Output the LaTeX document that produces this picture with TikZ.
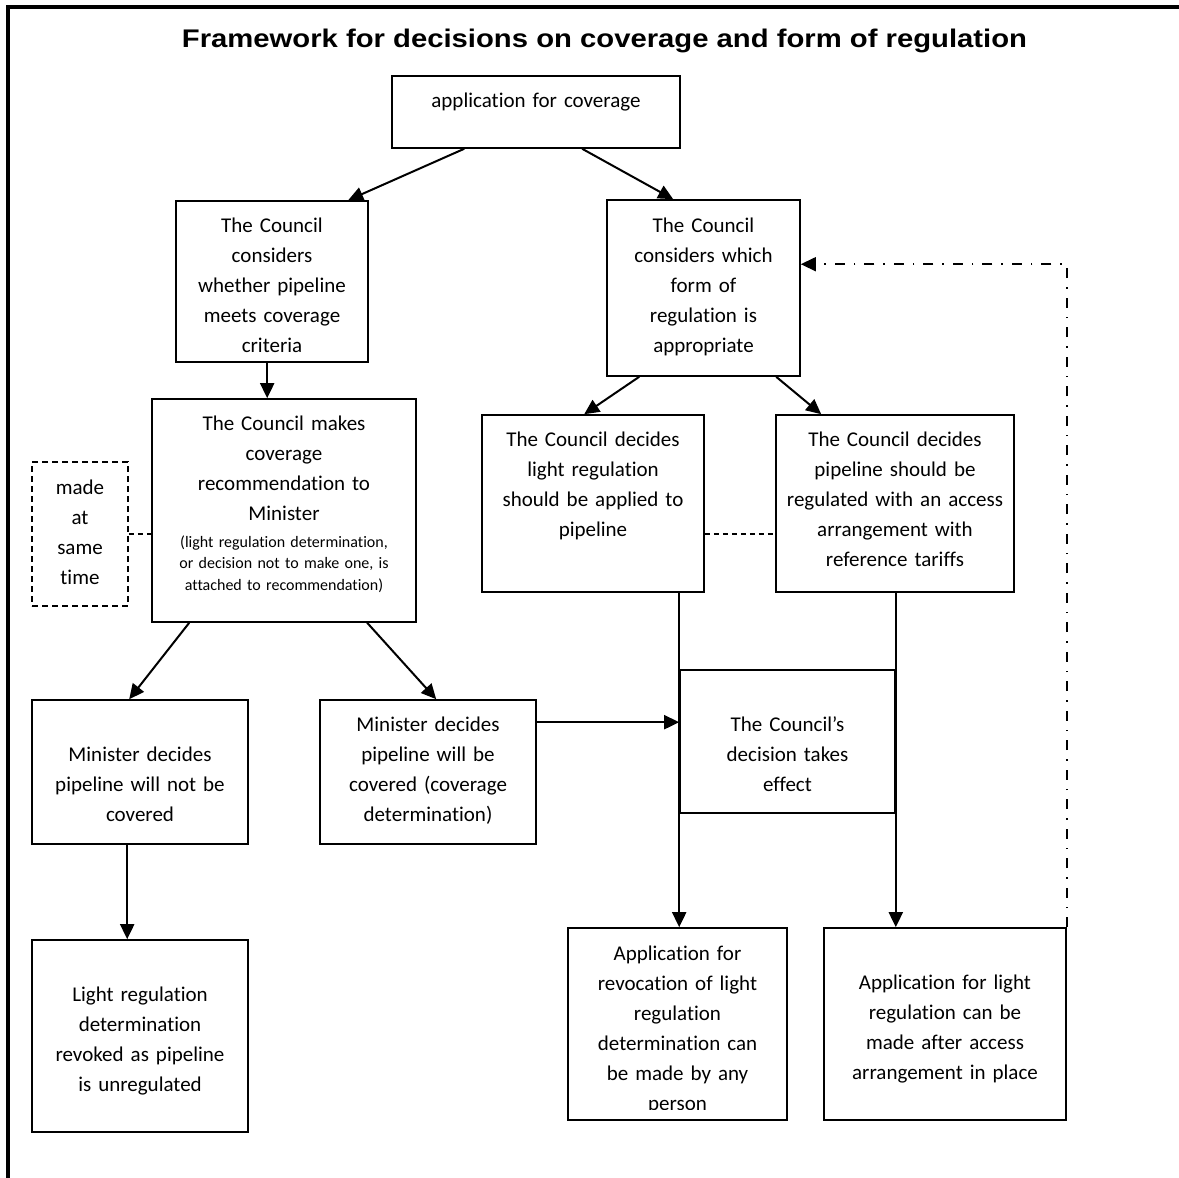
\documentclass[tikz,border=0pt]{standalone}
\usepackage{fontspec}
\usepackage{graphicx}
\setmainfont{Carlito}[Ligatures=NoCommon]
\newfontfamily\titlefont{Liberation Sans}
\usetikzlibrary{arrows.meta}
\tikzset{
  boxshape/.style={draw, line width=1.6pt, inner sep=0pt},
  dashbox/.style={draw, line width=1.6pt, inner sep=0pt, dash pattern=on 6pt off 4pt},
  boxtext/.style={inner sep=0pt, anchor=north, align=center, font=\fontsize{21}{30}\selectfont},
  notetext/.style={inner sep=0pt, anchor=north, align=center, font=\fontsize{16}{21.5}\selectfont},
  arrowline/.style={line width=2pt, -{Triangle[length=15pt,width=14pt]}},
  dashline/.style={line width=1.5pt, dash pattern=on 5pt off 4pt},
  dashdotline/.style={line width=1.5pt, dash pattern=on 10pt off 9pt on 1.5pt off 9pt, -{Triangle[length=15pt,width=14pt]}},
  frameline/.style={line width=3.8pt}
}
% \mkbox[opts]{name}{x1}{y1}{x2}{y2}
\newcommand\mkbox[6][boxshape]{%
  \node[#1, minimum width={(#5-#3)*1pt}, minimum height={(#6-#4)*1pt}] (#2) at ({(#3+#5)/2},{(#4+#6)/2}) {};}
% \mktext[style]{name}{box}{offset}{width}{text}
\newcommand\mktext[6][boxtext]{%
  \node[#1, text width=#5pt] (#2) at ([yshift=-#4pt]#3.north) {\strut #6};}
\begin{document}
\begin{tikzpicture}[x=1pt,y=-1pt]
\useasboundingbox (0,0) rectangle (1179,1178);
% outer frame
\draw[frameline] (8,1178) -- (8,7) -- (1179,7);
% title
\node[inner sep=0pt, anchor=base] (title) at (604.5,47)
  {\resizebox{845pt}{\height}{\titlefont\bfseries\fontsize{25.5}{30}\selectfont Framework for decisions on coverage and form of regulation}};
% boxes
\mkbox{A}{392}{76}{680}{148}
\mkbox{B}{176}{201}{368}{362}
\mkbox{C}{607}{200}{800}{376}
\mkbox{D}{152}{399}{416}{622}
\mkbox{E}{482}{415}{704}{592}
\mkbox{F}{776}{415}{1014}{592}
\mkbox[dashbox]{G}{32}{462}{128}{606}
\mkbox{H}{32}{700}{248}{844}
\mkbox{I}{320}{700}{536}{844}
\mkbox{J}{680}{670}{895}{813}
\mkbox{K}{568}{928}{787}{1120}
\mkbox{L}{824}{928}{1066}{1120}
\mkbox{M}{32}{940}{248}{1132}
% texts
\mktext{tA}{A}{11}{284}{application for coverage}
\mktext{tB}{B}{11}{188}{The Council\\considers\\whether pipeline\\meets coverage\\criteria}
\mktext{tC}{C}{12}{189}{The Council\\considers which\\form of\\regulation is\\appropriate}
\mktext{tD}{D}{11}{260}{The Council makes\\coverage\\recommendation to\\Minister}
\mktext[notetext]{tDn}{D}{134}{260}{(light regulation determination,\\or decision not to make one, is\\attached to recommendation)}
\mktext{tE}{E}{11}{218}{The Council decides\\light regulation\\should be applied to\\pipeline}
\mktext{tF}{F}{11}{234}{The Council decides\\pipeline should be\\regulated with an access\\arrangement with\\reference tariffs}
\mktext{tG}{G}{12}{92}{made\\at\\same\\time}
\mktext{tH}{H}{41}{212}{Minister decides\\pipeline will not be\\covered}
\mktext{tI}{I}{11}{212}{Minister decides\\pipeline will be\\covered (coverage\\determination)}
\mktext{tJ}{J}{41}{212}{The Council's\\decision takes\\effect}
\begin{scope}
\clip (568,928) rectangle (787,1109);
\mktext{tK}{K}{12}{215}{Application for\\revocation of light\\regulation\\determination can\\be made by any\\person}
\end{scope}
\mktext{tL}{L}{41}{238}{Application for light\\regulation can be\\made after access\\arrangement in place}
\mktext{tM}{M}{41}{212}{Light regulation\\determination\\revoked as pipeline\\is unregulated}
% connectors
\draw[arrowline] ([xshift=73pt]A.south west) -- ([xshift=173pt]B.north west);
\draw[arrowline] ([xshift=191pt]A.south west) -- ([xshift=67pt]C.north west);
\draw[arrowline] ([xshift=92pt]B.south west) -- ([xshift=116pt]D.north west);
\draw[arrowline] ([xshift=33pt]C.south west) -- ([xshift=103pt]E.north west);
\draw[arrowline] ([xshift=170pt]C.south west) -- ([xshift=46pt]F.north west);
\draw[arrowline] ([xshift=38pt]D.south west) -- ([xshift=98pt]H.north west);
\draw[arrowline] ([xshift=216pt]D.south west) -- ([xshift=117pt]I.north west);
\coordinate (ij) at ([yshift=-23pt]I.north east);
\draw[arrowline] (ij) -- (ij -| J.west);
\coordinate (hm) at ([xshift=96pt]H.south west);
\draw[arrowline] (hm) -- (hm |- M.north);
\coordinate (ek) at ([xshift=198pt]E.south west);
\draw[arrowline] (ek) -- (ek |- K.north);
\coordinate (fl) at (J.east |- F.south);
\draw[arrowline] (fl) -- (fl |- L.north);
\draw[dashline] (G.east) -- (G.east -| D.west);
\coordinate (ef) at ([yshift=-120pt]E.north east);
\draw[dashline] (ef) -- (ef -| F.west);
\coordinate (cin) at ([yshift=-65pt]C.north east);
\draw[dashdotline] (L.north east) -- (L.north east |- cin) -- (cin);
\end{tikzpicture}
\end{document}
